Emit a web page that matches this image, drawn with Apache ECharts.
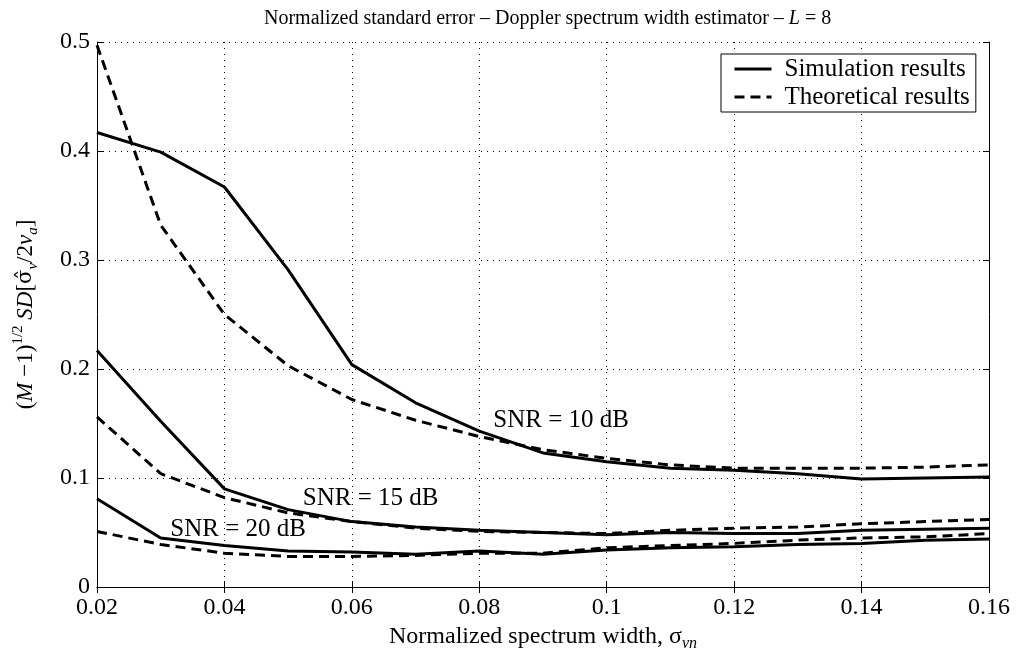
<!DOCTYPE html>
<html>
<head>
<meta charset="utf-8">
<script src="https://cdn.jsdelivr.net/npm/echarts@6/dist/echarts.min.js"></script>
<style>
  html, body { margin: 0; padding: 0; background: #fff; }
  #chart { width: 1018px; height: 659px; }
</style>
</head>
<body>
<div id="chart"></div>
<script>
// spectrum width samples
const xs = [0.02, 0.03, 0.04, 0.05, 0.06, 0.07, 0.08, 0.09, 0.10, 0.11, 0.12, 0.13, 0.14, 0.15, 0.16]

const sim10 = [0.417, 0.399, 0.367, 0.291, 0.204, 0.169, 0.143, 0.123, 0.115, 0.109, 0.107, 0.104, 0.099, 0.100, 0.101]
const theo10 = [0.497, 0.332, 0.250, 0.203, 0.172, 0.153, 0.138, 0.126, 0.118, 0.112, 0.109, 0.109, 0.109, 0.110, 0.112]
const sim15 = [0.217, 0.152, 0.090, 0.071, 0.060, 0.055, 0.052, 0.050, 0.048, 0.050, 0.049, 0.049, 0.052, 0.053, 0.054]
const theo15 = [0.156, 0.104, 0.082, 0.068, 0.060, 0.054, 0.051, 0.050, 0.049, 0.052, 0.054, 0.055, 0.058, 0.060, 0.062]
const sim20 = [0.081, 0.045, 0.038, 0.033, 0.032, 0.030, 0.033, 0.030, 0.034, 0.036, 0.037, 0.039, 0.040, 0.043, 0.044]
const theo20 = [0.051, 0.039, 0.031, 0.028, 0.028, 0.029, 0.031, 0.031, 0.036, 0.038, 0.040, 0.043, 0.045, 0.046, 0.049]

// SNR annotations (left edge of text, vertical centre)
const annText = ['SNR = 10 dB', 'SNR = 15 dB', 'SNR = 20 dB']
const annX = [0.0822, 0.0523, 0.0315]
const annY = [0.153, 0.0817, 0.0529]

const FONT = 'Liberation Serif'
const pairs = ys => xs.map((x, i) => [x, ys[i]])
const fmt = v => String(+v.toFixed(2))

const lineSeries = (name, ys, dashed) => ({
  name,
  type: 'line',
  data: pairs(ys),
  symbol: 'none',
  showSymbol: false,
  silent: true,
  lineStyle: { color: '#000', width: 3, type: dashed ? [10, 6] : 'solid' },
  itemStyle: { color: '#000' }
})

const chart = echarts.init(document.getElementById('chart'))

const hiddenAxis = {
  axisLine: { show: true, lineStyle: { color: '#000', width: 1 } },
  axisTick: { show: true, inside: true, length: 6, lineStyle: { color: '#000' } },
  axisLabel: { show: false },
  splitLine: { show: false }
}

chart.setOption({
  animation: false,
  backgroundColor: '#fff',
  title: {
    text: 'Normalized standard error – Doppler spectrum width estimator – {i|L} = 8',
    left: 259,
    top: 4,
    textStyle: {
      fontFamily: FONT, fontSize: 20, fontWeight: 'normal', color: '#000',
      rich: { i: { fontFamily: FONT, fontSize: 20, fontStyle: 'italic', color: '#000' } }
    }
  },
  legend: {
    data: ['Simulation results', 'Theoretical results'],
    orient: 'vertical',
    left: 721,
    top: 54,
    itemWidth: 37,
    itemHeight: 14,
    itemGap: 2,
    padding: [2, 6, 2, 12],
    backgroundColor: '#fff',
    borderColor: '#000',
    borderWidth: 1,
    borderRadius: 0,
    itemStyle: { color: 'transparent', borderWidth: 0, opacity: 0 },
    lineStyle: { width: 3, color: '#000' },
    textStyle: { fontFamily: FONT, fontSize: 25, color: '#000', lineHeight: 26, padding: [0, 0, 0, 8] }
  },
  grid: { left: 97, right: 29, top: 42, bottom: 72 },
  xAxis: [{
    type: 'value',
    min: 0.02, max: 0.16, interval: 0.02,
    name: 'Normalized spectrum width, {s|σ}{sub|vn}',
    nameLocation: 'middle',
    nameGap: 34,
    nameTextStyle: {
      fontFamily: FONT, fontSize: 24, color: '#000',
      rich: {
        s: { fontFamily: FONT, fontSize: 24, color: '#000', lineHeight: 30 },
        sub: { fontFamily: FONT, fontSize: 16, fontStyle: 'italic', color: '#000', verticalAlign: 'bottom', lineHeight: 14 }
      }
    },
    axisLine: { lineStyle: { color: '#000', width: 1 } },
    axisTick: { inside: true, length: 6, lineStyle: { color: '#000' } },
    axisLabel: { fontFamily: FONT, fontSize: 24, color: '#000', margin: 9, formatter: fmt },
    splitLine: { show: true, lineStyle: { color: '#000', width: 1, type: [1, 5] } }
  }, Object.assign({ type: 'value', position: 'top', min: 0.02, max: 0.16, interval: 0.02 }, hiddenAxis)],
  yAxis: [{
    type: 'value',
    min: 0, max: 0.5, interval: 0.1,
    name: '{n|(}{i|M}{n| −1)}{sup|1/2}{n| }{i|SD}{n|[}{h|σ̂}{isub|v}{n|/2}{i|v}{isub|a}{n|]}',
    nameLocation: 'middle',
    nameRotate: 90,
    nameGap: 56,
    nameTextStyle: {
      fontFamily: FONT, fontSize: 23, color: '#000',
      rich: {
        n: { fontFamily: FONT, fontSize: 23, color: '#000', lineHeight: 30 },
        h: { fontFamily: 'DejaVu Serif', fontSize: 21, color: '#000', lineHeight: 30 },
        i: { fontFamily: FONT, fontSize: 23, fontStyle: 'italic', color: '#000', lineHeight: 30 },
        sup: { fontFamily: FONT, fontSize: 15, color: '#000', verticalAlign: 'top', lineHeight: 14 },
        isub: { fontFamily: FONT, fontSize: 15, fontStyle: 'italic', color: '#000', verticalAlign: 'bottom', lineHeight: 12 }
      }
    },
    axisLine: { show: true, lineStyle: { color: '#000', width: 1 } },
    axisTick: { show: true, inside: true, length: 6, lineStyle: { color: '#000' } },
    axisLabel: { fontFamily: FONT, fontSize: 24, color: '#000', margin: 7, formatter: fmt },
    splitLine: { show: true, lineStyle: { color: '#000', width: 1, type: [1, 5] } }
  }, Object.assign({ type: 'value', position: 'right', min: 0, max: 0.5, interval: 0.1 }, hiddenAxis)],
  series: [
    lineSeries('Simulation results', sim10, false),
    lineSeries('Theoretical results', theo10, true),
    lineSeries('Simulation results', sim15, false),
    lineSeries('Theoretical results', theo15, true),
    lineSeries('Simulation results', sim20, false),
    lineSeries('Theoretical results', theo20, true),
    {
      type: 'scatter',
      silent: true,
      symbolSize: 0,
      itemStyle: { opacity: 1, color: '#000' },
      data: annX.map((x, i) => ({ value: [x, annY[i]], name: annText[i] })),
      label: {
        show: true,
        position: 'right',
        distance: 0,
        formatter: p => p.name,
        fontFamily: FONT, fontSize: 25, color: '#000', opacity: 1
      }
    }
  ]
})
</script>
</body>
</html>
